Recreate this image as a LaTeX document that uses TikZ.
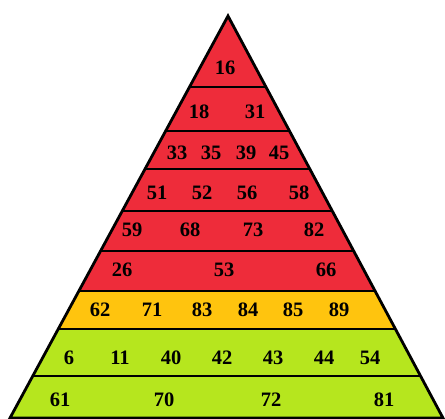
\documentclass[tikz,border=0pt]{standalone}
\usepackage{fontspec}
\setmainfont{Liberation Serif}
\definecolor{pyrred}{RGB}{238,44,58}
\definecolor{pyrorange}{RGB}{255,196,14}
\definecolor{pyrgreen}{RGB}{182,230,30}
\begin{document}
\begin{tikzpicture}[x=1pt,y=-1pt,
  num/.style={inner sep=0pt,font=\fontsize{20.5}{21}\selectfont\bfseries},
  edge/.style={line width=2.8pt,line join=miter}]
\useasboundingbox (0,0) rectangle (445,419);
\coordinate (A) at (228,16);
\coordinate (L) at (10,418);
\coordinate (R) at (443,418);
\begin{scope}
  \clip (A) -- (L) -- (R) -- cycle;
  \fill[pyrred] (0,0) rectangle (445,291);
  \fill[pyrorange] (0,291) rectangle (445,329);
  \fill[pyrgreen] (0,329) rectangle (445,420);
  \foreach \yy in {87,131,169,211,251,291,329,376}
    \draw[line width=2.8pt] (0,\yy) -- (445,\yy);
\end{scope}
\draw[edge] (A) -- (L) -- (R) -- cycle;
% row 1
\node[num] (n16) at (225,68) {16};
% row 2
\node[num] (n18) at (199,112) {18};
\node[num] (n31) at (255,112) {31};
% row 3
\node[num] (n33) at (177,153) {33};
\node[num] (n35) at (211,153) {35};
\node[num] (n39) at (246,153) {39};
\node[num] (n45) at (279,153) {45};
% row 4
\node[num] (n51) at (157,193) {51};
\node[num] (n52) at (202,193) {52};
\node[num] (n56) at (247,193) {56};
\node[num] (n58) at (299,193) {58};
% row 5
\node[num] (n59) at (132,230) {59};
\node[num] (n68) at (190,230) {68};
\node[num] (n73) at (253,230) {73};
\node[num] (n82) at (314,230) {82};
% row 6
\node[num] (n26) at (122,270) {26};
\node[num] (n53) at (224,270) {53};
\node[num] (n66) at (326,270) {66};
% row 7
\node[num] (n62) at (100,310) {62};
\node[num] (n71) at (152,310) {71};
\node[num] (n83) at (202,310) {83};
\node[num] (n84) at (248,310) {84};
\node[num] (n85) at (293,310) {85};
\node[num] (n89) at (339,310) {89};
% row 8
\node[num] (n6) at (69,358) {6};
\node[num] (n11) at (120,358) {11};
\node[num] (n40) at (171,358) {40};
\node[num] (n42) at (222,358) {42};
\node[num] (n43) at (273,358) {43};
\node[num] (n44) at (324,358) {44};
\node[num] (n54) at (370,358) {54};
% row 9
\node[num] (n61) at (60,400) {61};
\node[num] (n70) at (164,400) {70};
\node[num] (n72) at (271,400) {72};
\node[num] (n81) at (384,400) {81};
\end{tikzpicture}
\end{document}
